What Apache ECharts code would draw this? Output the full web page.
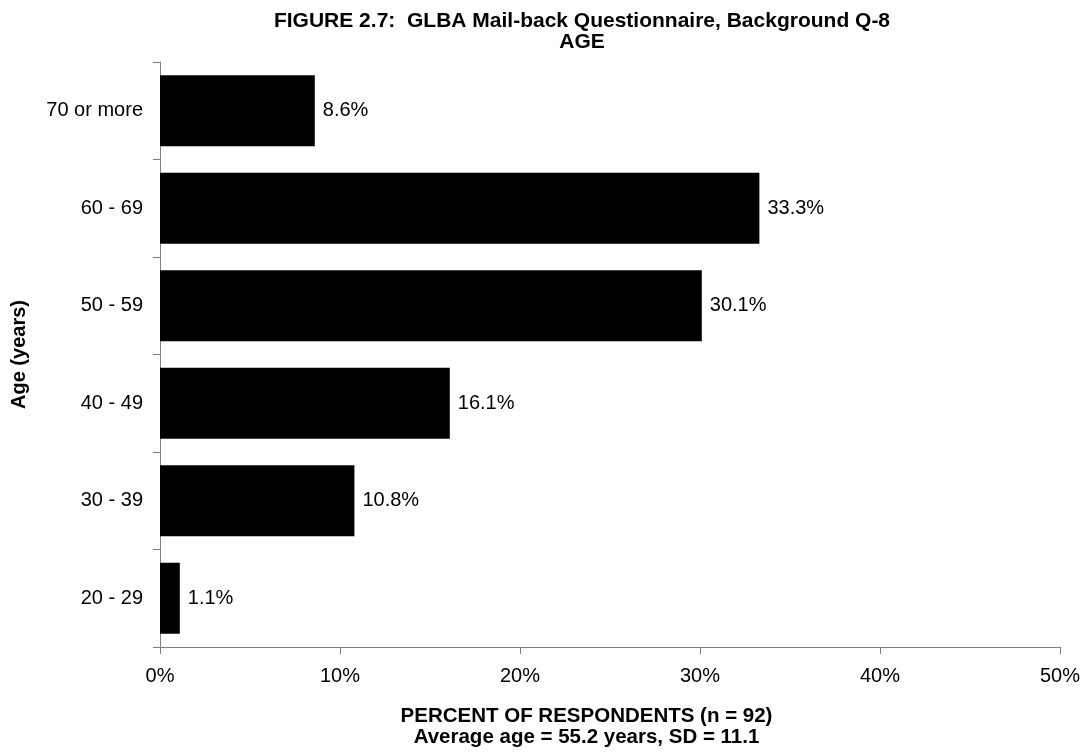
<!DOCTYPE html>
<html>
<head>
<meta charset="utf-8">
<script src="https://cdn.jsdelivr.net/npm/echarts@6/dist/echarts.min.js"></script>
<style>
  html, body { margin: 0; padding: 0; background: #fff; }
  #chart { width: 1083px; height: 754px; }
</style>
</head>
<body>
<div id="chart"></div>
<script>
// age groups, bottom to top
const ageGroups = ["20 - 29", "30 - 39", "40 - 49", "50 - 59", "60 - 69", "70 or more"];
// percent of respondents
const percents = [1.1, 10.8, 16.1, 30.1, 33.3, 8.6];
const xTicks = [0, 10, 20, 30, 40, 50];

const font = "Liberation Sans, Arial, sans-serif";
const chart = echarts.init(document.getElementById("chart"));

chart.setOption({
  animation: false,
  textStyle: { fontFamily: font },
  title: {
    text: "FIGURE 2.7:  GLBA Mail-back Questionnaire, Background Q-8\nAGE",
    left: 577,
    top: 6,
    textAlign: "center",
    textStyle: { fontFamily: font, fontSize: 21, fontWeight: "bold", color: "#000", lineHeight: 21 }
  },
  grid: { left: 160, right: 23, top: 62, bottom: 107 },
  xAxis: {
    type: "value",
    min: xTicks[0],
    max: xTicks[xTicks.length - 1],
    interval: 10,
    name: "PERCENT OF RESPONDENTS (n = 92)\nAverage age = 55.2 years, SD = 11.1",
    nameLocation: "middle",
    nameGap: 59,
    nameTextStyle: { fontFamily: font, fontSize: 20.5, fontWeight: "bold", color: "#000", lineHeight: 21, padding: [0, 0, 0, -47] },
    axisLine: { show: true, lineStyle: { color: "#808080", width: 1 } },
    axisTick: { show: true, length: 7, lineStyle: { color: "#808080" } },
    splitLine: { show: false },
    axisLabel: { formatter: "{value}%", fontSize: 20, color: "#000", margin: 19, fontFamily: font }
  },
  yAxis: {
    type: "category",
    data: ageGroups,
    name: "Age (years)",
    nameLocation: "middle",
    nameGap: 131,
    nameTextStyle: { fontFamily: font, fontSize: 20, fontWeight: "bold", color: "#000" },
    axisLine: { show: true, lineStyle: { color: "#808080", width: 1 } },
    axisTick: { show: true, length: 7, lineStyle: { color: "#808080" } },
    axisLabel: { fontSize: 20, color: "#000", margin: 17, fontFamily: font }
  },
  series: [{
    type: "bar",
    data: percents,
    barCategoryGap: "27%",
    itemStyle: { color: "#000" },
    label: {
      show: true,
      position: "right",
      distance: 8,
      formatter: p => p.value.toFixed(1) + "%",
      fontSize: 20,
      color: "#000",
      fontFamily: font
    }
  }]
});
</script>
</body>
</html>
